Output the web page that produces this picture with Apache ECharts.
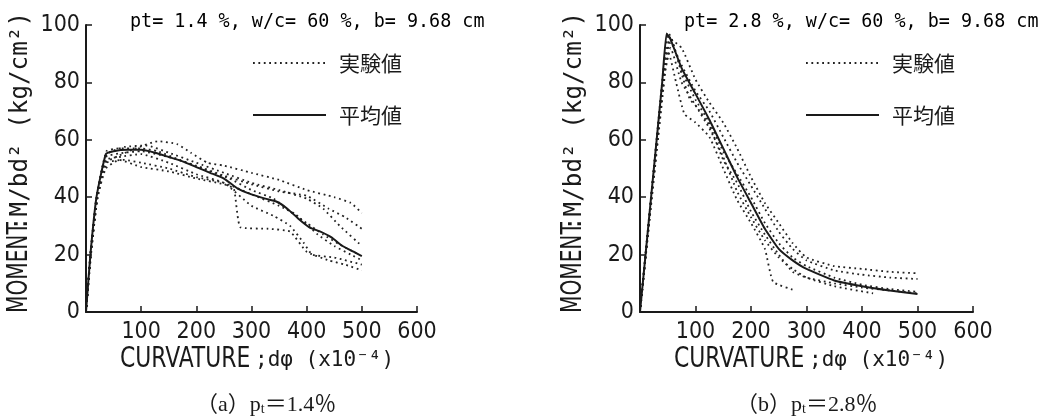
<!DOCTYPE html>
<html><head><meta charset="utf-8">
<script src="https://cdn.jsdelivr.net/npm/echarts@6/dist/echarts.min.js"></script>
<style>html,body{margin:0;padding:0;background:#fff}#c{width:1059px;height:418px}</style>
</head><body><div id="c"></div>
<script>
// ---------- data ----------
const seriesNames = ['実験値', '平均値'];
const xTickValues = [0, 100, 200, 300, 400, 500, 600];
const yTickValues = [0, 20, 40, 60, 80, 100];
const titleA = 'pt= 1.4 %, w/c= 60 %, b= 9.68 cm';
const titleB = 'pt= 2.8 %, w/c= 60 %, b= 9.68 cm';

// (a) pt = 1.4 %  experimental (dotted)
const a_exp1 = [[0,0],[8,19],[20,39],[35,52],[60,54.5],[90,57],[130,59.5],[165,58.5],[190,55.5],[220,52],[250,51],[300,48.5],[350,46],[400,42.5],[450,40],[480,38],[500,34.5]];
const a_exp2 = [[0,0],[8,20],[19,40],[36,54],[70,55.5],[100,56],[150,54],[200,51],[250,47.5],[300,44.5],[350,42],[400,40.5],[440,36],[470,33],[500,29]];
const a_exp3 = [[0,0],[8,19],[20,40],[38,55],[70,57.5],[110,58],[150,55.5],[200,52],[250,48.5],[300,45],[350,42.5],[400,39.5],[430,36],[460,30],[500,23]];
const a_exp4 = [[0,0],[9,20],[21,40],[36,50],[60,53],[100,50.5],[150,49],[200,46.5],[250,44.5],[268,43],[280,29.5],[330,29],[370,28],[400,21],[440,18],[470,16.5],[500,14.5]];
const a_exp5 = [[0,0],[8,20],[20,40],[36,53],[60,54],[100,55],[150,52],[200,48],[250,45],[300,37],[340,33.5],[370,30],[395,24],[410,20],[450,19],[500,16.5]];
const a_exp6 = [[0,0],[9,20],[21,40],[38,52],[70,53],[100,52],[150,50],[200,47],[250,45],[300,41],[350,37],[380,34],[420,27],[450,23],[480,20],[500,18]];
const a_exp7 = [[0,0],[8,20],[19,40],[37,56],[60,57],[100,57],[130,56],[170,53],[210,50],[260,46.5],[300,42.5],[340,39.5],[370,35],[400,31],[430,27],[460,23.5],[490,20.5]];
// (a) average (solid)
const a_mean = [[0,0],[8,20],[19,40],[36,55],[50,56],[75,56.5],[100,56.5],[125,55.5],[150,54],[175,52.5],[200,50.5],[225,48.5],[250,46.5],[275,43],[300,41],[325,39.5],[345,38.5],[365,36],[385,32.5],[405,29.5],[425,28],[445,26],[465,23],[485,21],[500,19.5]];

// (b) pt = 2.8 %  experimental (dotted)
const b_exp1 = [[0,0],[45,88],[55,95],[75,92],[100,81],[125,73],[150,66],[175,57],[200,47],[225,38],[250,31],[275,24],[300,19],[350,16],[400,15],[450,14],[500,13.5]];
const b_exp2 = [[0,0],[45,86],[55,94],[75,86],[100,77],[125,70],[150,61],[175,52],[200,44],[225,36],[250,28],[275,22],[300,18],[350,14.5],[400,13],[450,12],[500,11.5]];
const b_exp3 = [[0,0],[45,90],[52,97],[75,84],[100,74],[125,66],[150,56],[175,48],[200,40],[225,31],[250,24],[275,19],[300,16],[350,12],[400,9.5],[450,8],[500,7]];
const b_exp4 = [[0,0],[45,84],[55,92],[75,80],[100,72],[125,64],[150,54],[175,42],[200,33],[225,25],[250,19],[275,15],[300,12],[350,9],[420,6.5]];
const b_exp5 = [[0,0],[45,83],[52,90],[65,80],[80,69],[100,66],[125,61],[150,50],[175,39],[200,31],[225,22],[240,10.5],[280,7.5]];
const b_exp6 = [[0,0],[45,88],[55,96],[75,83],[90,74],[100,72],[125,65],[150,53],[175,45],[200,35],[225,27],[250,20],[275,14],[300,12],[350,10],[400,8.5],[450,7.5],[500,6.5]];
// (b) average (solid)
const b_mean = [[0,0],[20,40],[40,80],[48,97],[55,95],[75,85],[100,76],[125,67],[150,57],[175,47],[200,38],[225,29],[250,22],[275,18],[300,15],[350,11],[400,9],[450,7.5],[500,6.3]];

// ---------- styling ----------
const INK = '#1a1a1a';
const NUMFONT = "'DejaVu Sans Condensed','Liberation Sans Narrow',sans-serif";
const NARROW = "'Liberation Sans Narrow','DejaVu Sans Condensed',sans-serif";
const MONO = "'DejaVu Sans Mono','Liberation Mono',monospace";
const CJK = "'Noto Sans CJK JP',sans-serif";

function xAx(gi){ return {type:'value', gridIndex:gi, min:xTickValues[0], max:xTickValues[xTickValues.length-1], interval:xTickValues[1]-xTickValues[0],
  axisLine:{onZero:false, lineStyle:{color:INK,width:2}}, axisTick:{inside:true,length:6,lineStyle:{color:INK,width:1.5}},
  axisLabel:{showMinLabel:false, margin:9, fontFamily:NUMFONT, fontSize:23, color:INK}, splitLine:{show:false}}; }
function yAx(gi){ return {type:'value', gridIndex:gi, min:yTickValues[0], max:yTickValues[yTickValues.length-1], interval:yTickValues[1]-yTickValues[0],
  axisLine:{show:true, onZero:false, lineStyle:{color:INK,width:2}}, axisTick:{show:true, inside:true,length:6,lineStyle:{color:INK,width:1.5}},
  axisLabel:{margin:6, fontFamily:NUMFONT, fontSize:23, color:INK}, splitLine:{show:false}}; }

function dotted(gi, d){ return {name:seriesNames[0], type:'line', xAxisIndex:gi, yAxisIndex:gi, data:d, symbol:'none', smooth:0.15, z:2,
  color:'#222', lineStyle:{color:'#222', width:1.8, type:[1.8,3.6]}}; }
function solid(gi, d){ return {name:seriesNames[1], type:'line', xAxisIndex:gi, yAxisIndex:gi, data:d, symbol:'none', smooth:0.15, z:3,
  color:INK, lineStyle:{color:INK, width:2}}; }

function legend(left){ return {left:left, top:49, padding:0, orient:'vertical', itemWidth:73, itemHeight:14, itemGap:24, selectedMode:false,
  data:seriesNames, itemStyle:{color:'transparent', borderColor:'transparent', borderWidth:0, opacity:0},
  textStyle:{fontFamily:CJK, fontSize:21, color:INK, lineHeight:24, padding:[4,0,0,8]}}; }

function texts(ax, capX, titleStr, capLetter, capVal){
  const o = ax - 86;
  return [
    {type:'text', x:130+o, y:22, scaleX:0.92, style:{text:titleStr, fontFamily:MONO, fontSize:20, fill:'#000', textAlign:'left', textVerticalAlign:'middle'}},
    {type:'text', x:20+o, y:313, rotation:Math.PI/2, scaleX:0.8, style:{text:'MOMENT', fontFamily:NARROW, fontSize:28, fill:INK, textAlign:'left', textVerticalAlign:'middle'}},
    {type:'text', x:20+o, y:231, rotation:Math.PI/2, scaleX:0.97, style:{text:':M/bd² (kg/cm²)', fontFamily:MONO, fontSize:25, fill:INK, textAlign:'left', textVerticalAlign:'middle'}},
    {type:'text', x:120+o, y:360, scaleX:0.87, style:{text:'CURVATURE', fontFamily:NARROW, fontSize:28, fill:INK, textAlign:'left', textVerticalAlign:'middle'}},
    {type:'text', x:255+o, y:361, style:{text:';dφ (x10⁻⁴)', fontFamily:MONO, fontSize:21, fill:INK, textAlign:'left', textVerticalAlign:'middle'}},
    {type:'text', x:capX, y:405, style:{text:'（'+capLetter+'）p{s|t}＝'+capVal+'％', fontFamily:"'Liberation Serif','Noto Sans CJK JP',serif", fontSize:22, fill:INK, textAlign:'left', textVerticalAlign:'middle',
      rich:{s:{fontSize:14, fontFamily:"'Liberation Serif',serif", fill:INK, verticalAlign:'bottom'}}}}
  ];
}

const chart = echarts.init(document.getElementById('c'), null, {renderer:'canvas'});
chart.setOption({
  backgroundColor:'#fff',
  animation:false,
  grid:[{left:86, top:25, width:331, height:287}, {left:640, top:25, width:333, height:287}],
  xAxis:[xAx(0), xAx(1)],
  yAxis:[yAx(0), yAx(1)],
  legend:[legend(252), legend(805)],
  series:[
    dotted(0,a_exp1), dotted(0,a_exp2), dotted(0,a_exp3), dotted(0,a_exp4), dotted(0,a_exp5), dotted(0,a_exp6), dotted(0,a_exp7), solid(0,a_mean),
    dotted(1,b_exp1), dotted(1,b_exp2), dotted(1,b_exp3), dotted(1,b_exp4), dotted(1,b_exp5), dotted(1,b_exp6), solid(1,b_mean)
  ],
  graphic:[].concat(texts(86, 196, titleA, 'a', '1.4'), texts(640, 736, titleB, 'b', '2.8'))
});
</script></body></html>
